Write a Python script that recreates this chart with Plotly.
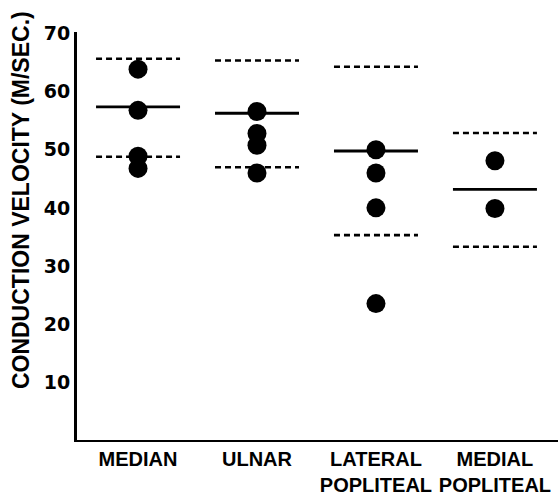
import plotly.graph_objects as go

# ---- data ----
categories = ["MEDIAN", "ULNAR", "LATERAL<br>POPLITEAL", "MEDIAL<br>POPLITEAL"]
upper_limit = [65.7, 65.4, 64.3, 52.9]
mean_value = [57.4, 56.3, 49.8, 43.2]
lower_limit = [48.8, 47.0, 35.3, 33.3]
observations = [
    [63.9, 56.8, 48.9, 46.8],
    [56.6, 52.8, 50.8, 46.0],
    [50.0, 46.0, 40.0, 23.5],
    [48.1, 39.9],
]
y_ticks = [10, 20, 30, 40, 50, 60, 70]

positions = list(range(1, len(categories) + 1))
HALF = 0.353
FONT = "Liberation Sans"
DIGIT_FONT = "DejaVu Sans"

def seg_xy(values):
    xs, ys = [], []
    for p, v in zip(positions, values):
        xs += [p - HALF, p + HALF, None]
        ys += [v, v, None]
    return xs, ys

fig = go.Figure()

for vals in (upper_limit, lower_limit):
    xs, ys = seg_xy(vals)
    fig.add_trace(go.Scatter(x=xs, y=ys, mode="lines",
                             line=dict(color="black", width=2.6, dash="6px,4px"),
                             hoverinfo="skip", showlegend=False))

xs, ys = seg_xy(mean_value)
fig.add_trace(go.Scatter(x=xs, y=ys, mode="lines",
                         line=dict(color="black", width=2.8),
                         hoverinfo="skip", showlegend=False))

px, py = [], []
for p, obs in zip(positions, observations):
    px += [p] * len(obs)
    py += obs
fig.add_trace(go.Scatter(x=px, y=py, mode="markers",
                         marker=dict(color="black", size=19, line=dict(width=0)),
                         showlegend=False))

fig.update_layout(
    width=558, height=498,
    margin=dict(l=77, r=0, t=32, b=58),
    plot_bgcolor="white", paper_bgcolor="white",
    font=dict(family=FONT, color="black"),
    xaxis=dict(range=[0.487, 4.53], showgrid=False, zeroline=False,
               showline=True, linecolor="black", linewidth=2.2,
               tickmode="array", tickvals=positions, ticktext=categories,
               ticks="", tickangle=0,
               tickfont=dict(family=FONT, size=20, weight="bold")),
    yaxis=dict(range=[0, 70.3], showgrid=False, zeroline=False,
               showline=True, linecolor="black", linewidth=3,
               tickmode="array", tickvals=y_ticks, ticks="",
               ticklabelstandoff=0,
               tickfont=dict(family=DIGIT_FONT, size=19, weight="bold")),
    annotations=[dict(text="CONDUCTION VELOCITY (M/SEC.)", textangle=-90,
                      xref="paper", yref="paper", x=-0.1164, y=0.588,
                      xanchor="center", yanchor="middle", showarrow=False,
                      font=dict(family=FONT, size=23, weight="bold"))],
)

fig.write_html("out.html")
